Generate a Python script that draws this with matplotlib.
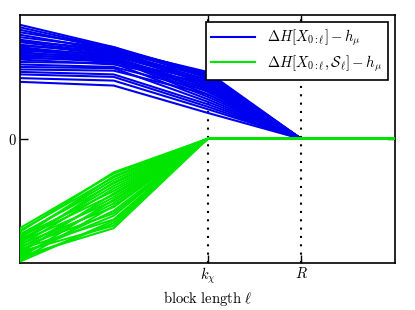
import matplotlib
matplotlib.use("Agg")
import matplotlib.pyplot as plt
import numpy as np

plt.rcParams['mathtext.fontset'] = 'cm'
plt.rcParams['font.family'] = 'DejaVu Serif'

x_block = [0, 1, 2, 3, 4]

blue_x0 = [0.92, 0.90, 0.88, 0.86, 0.84, 0.82, 0.80, 0.79, 0.78, 0.76, 0.75, 0.74, 0.73, 0.72, 0.71,
           0.70, 0.69, 0.68, 0.67, 0.66, 0.65, 0.64, 0.62, 0.60, 0.58, 0.56, 0.54, 0.52, 0.49, 0.46]
blue_x1 = [0.74, 0.73, 0.72, 0.74, 0.71, 0.73, 0.70, 0.72, 0.69, 0.68, 0.71, 0.66, 0.67, 0.65, 0.69,
           0.64, 0.66, 0.63, 0.65, 0.62, 0.64, 0.60, 0.61, 0.58, 0.57, 0.55, 0.52, 0.50, 0.47, 0.43]
blue_x2 = [0.52, 0.50, 0.54, 0.49, 0.47, 0.53, 0.45, 0.51, 0.44, 0.48, 0.52, 0.42, 0.46, 0.40, 0.50,
           0.43, 0.38, 0.47, 0.36, 0.41, 0.34, 0.45, 0.32, 0.39, 0.30, 0.36, 0.28, 0.26, 0.24, 0.21]

green_x0 = [-0.72, -0.74, -0.75, -0.77, -0.78, -0.79, -0.80, -0.81, -0.82, -0.83, -0.84, -0.85, -0.86,
            -0.87, -0.88, -0.89, -0.90, -0.91, -0.92, -0.93, -0.94, -0.95, -0.96, -0.97, -0.98, -0.99]
green_x1 = [-0.28, -0.31, -0.27, -0.36, -0.33, -0.42, -0.30, -0.45, -0.38, -0.50, -0.35, -0.55, -0.40,
            -0.60, -0.47, -0.65, -0.52, -0.70, -0.44, -0.62, -0.58, -0.72, -0.49, -0.68, -0.54, -0.66]

xtick_pos = [2, 3]
xtick_labels = [r'$k_\chi$', r'$R$']
label_blue = r'$\Delta H[X_{0:\ell}]-h_\mu$'
label_green = r'$\Delta H[X_{0:\ell},\mathcal{S}_\ell]-h_\mu$'

fig = plt.figure(figsize=(4.15, 3.10), dpi=100)
ax = fig.add_axes([0.048, 0.152, 0.904, 0.800])

blue = '#0000f0'
green = '#00e600'

for i, (a, b, c) in enumerate(zip(blue_x0, blue_x1, blue_x2)):
    ax.plot(x_block, [a, b, c, 0, 0], color=blue, lw=1.5,
            label=label_blue if i == 0 else None, zorder=2)
for i, (a, b) in enumerate(zip(green_x0, green_x1)):
    ax.plot(x_block, [a, b, 0, 0, 0], color=green, lw=1.5,
            label=label_green if i == 0 else None, zorder=3)

for xv in xtick_pos:
    ax.axvline(xv, color='black', ls=(0, (1, 3)), lw=1.5, zorder=1)

ax.set_xlim(0, 4)
ax.set_ylim(-1, 1)
ax.set_xticks(xtick_pos)
ax.set_xticklabels(xtick_labels, fontsize=10.5)
ax.set_yticks([0])
ax.set_yticklabels([r'$0$'], fontsize=10.5)
ax.tick_params(direction='in', length=6, width=1, top=True, right=True, pad=2)
for s in ax.spines.values():
    s.set_linewidth(1.2)
ax.set_xlabel(r'$\mathrm{block\ length}\ \ell$', fontsize=10.5, labelpad=2)

leg = ax.legend(loc='upper right', fontsize=10.5, fancybox=False, framealpha=1,
                edgecolor='black', handlelength=3, labelspacing=0.35)
leg.get_frame().set_linewidth(1.2)

fig.savefig('out.png', dpi=100)
